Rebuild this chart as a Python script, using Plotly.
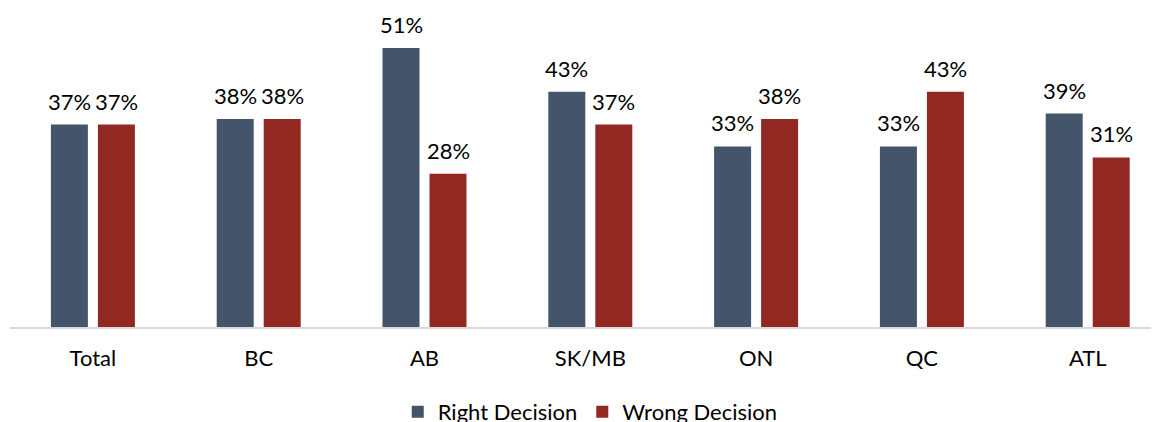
import plotly.graph_objects as go

regions = ["Total", "BC", "AB", "SK/MB", "ON", "QC", "ATL"]
right_decision = [37, 38, 51, 43, 33, 33, 39]
wrong_decision = [37, 38, 28, 37, 38, 43, 31]

BLUE = "#44546A"
RED = "#922822"
FONT = "Lato"

fig = go.Figure()
fig.add_trace(go.Bar(x=regions, y=right_decision, name="Right Decision",
                     marker=dict(color=BLUE, line=dict(width=0))))
fig.add_trace(go.Bar(x=regions, y=wrong_decision, name="Wrong Decision",
                     marker=dict(color=RED, line=dict(width=0))))

# value labels above each bar
for vals, shift in ((right_decision, -23.5), (wrong_decision, 23.5)):
    for cat, v in zip(regions, vals):
        fig.add_annotation(x=cat, y=v, text=f"{v}%", xref="x", yref="y",
                           showarrow=False, xshift=shift, yshift=9, borderpad=0,
                           yanchor="bottom", font=dict(size=22, color="#000000", family=FONT))

# page body adds an 8px offset, so margins are compensated
fig.update_layout(
    width=1159, height=422,
    margin=dict(l=2, r=8, t=0, b=103, autoexpand=False),
    paper_bgcolor="white", plot_bgcolor="white",
    barmode="group", bargap=0.433, bargroupgap=0.213,
    font=dict(family=FONT, size=22, color="#000000"),
    showlegend=True,
    legend=dict(orientation="h", x=0.505, xanchor="center", yref="container",
                y=0.043, yanchor="middle", font=dict(size=22), itemwidth=30,
                tracegroupgap=0),
)
fig.update_xaxes(range=[-0.5, 6.43], showline=True, linecolor="#D9D9D9", linewidth=2,
                 ticks="", showgrid=False, ticklabelstandoff=11, automargin=False,
                 tickfont=dict(size=22, family=FONT))
fig.update_yaxes(range=[0, 58.3], visible=False, showgrid=False, zeroline=False,
                 automargin=False)

fig.write_html("out.html")
